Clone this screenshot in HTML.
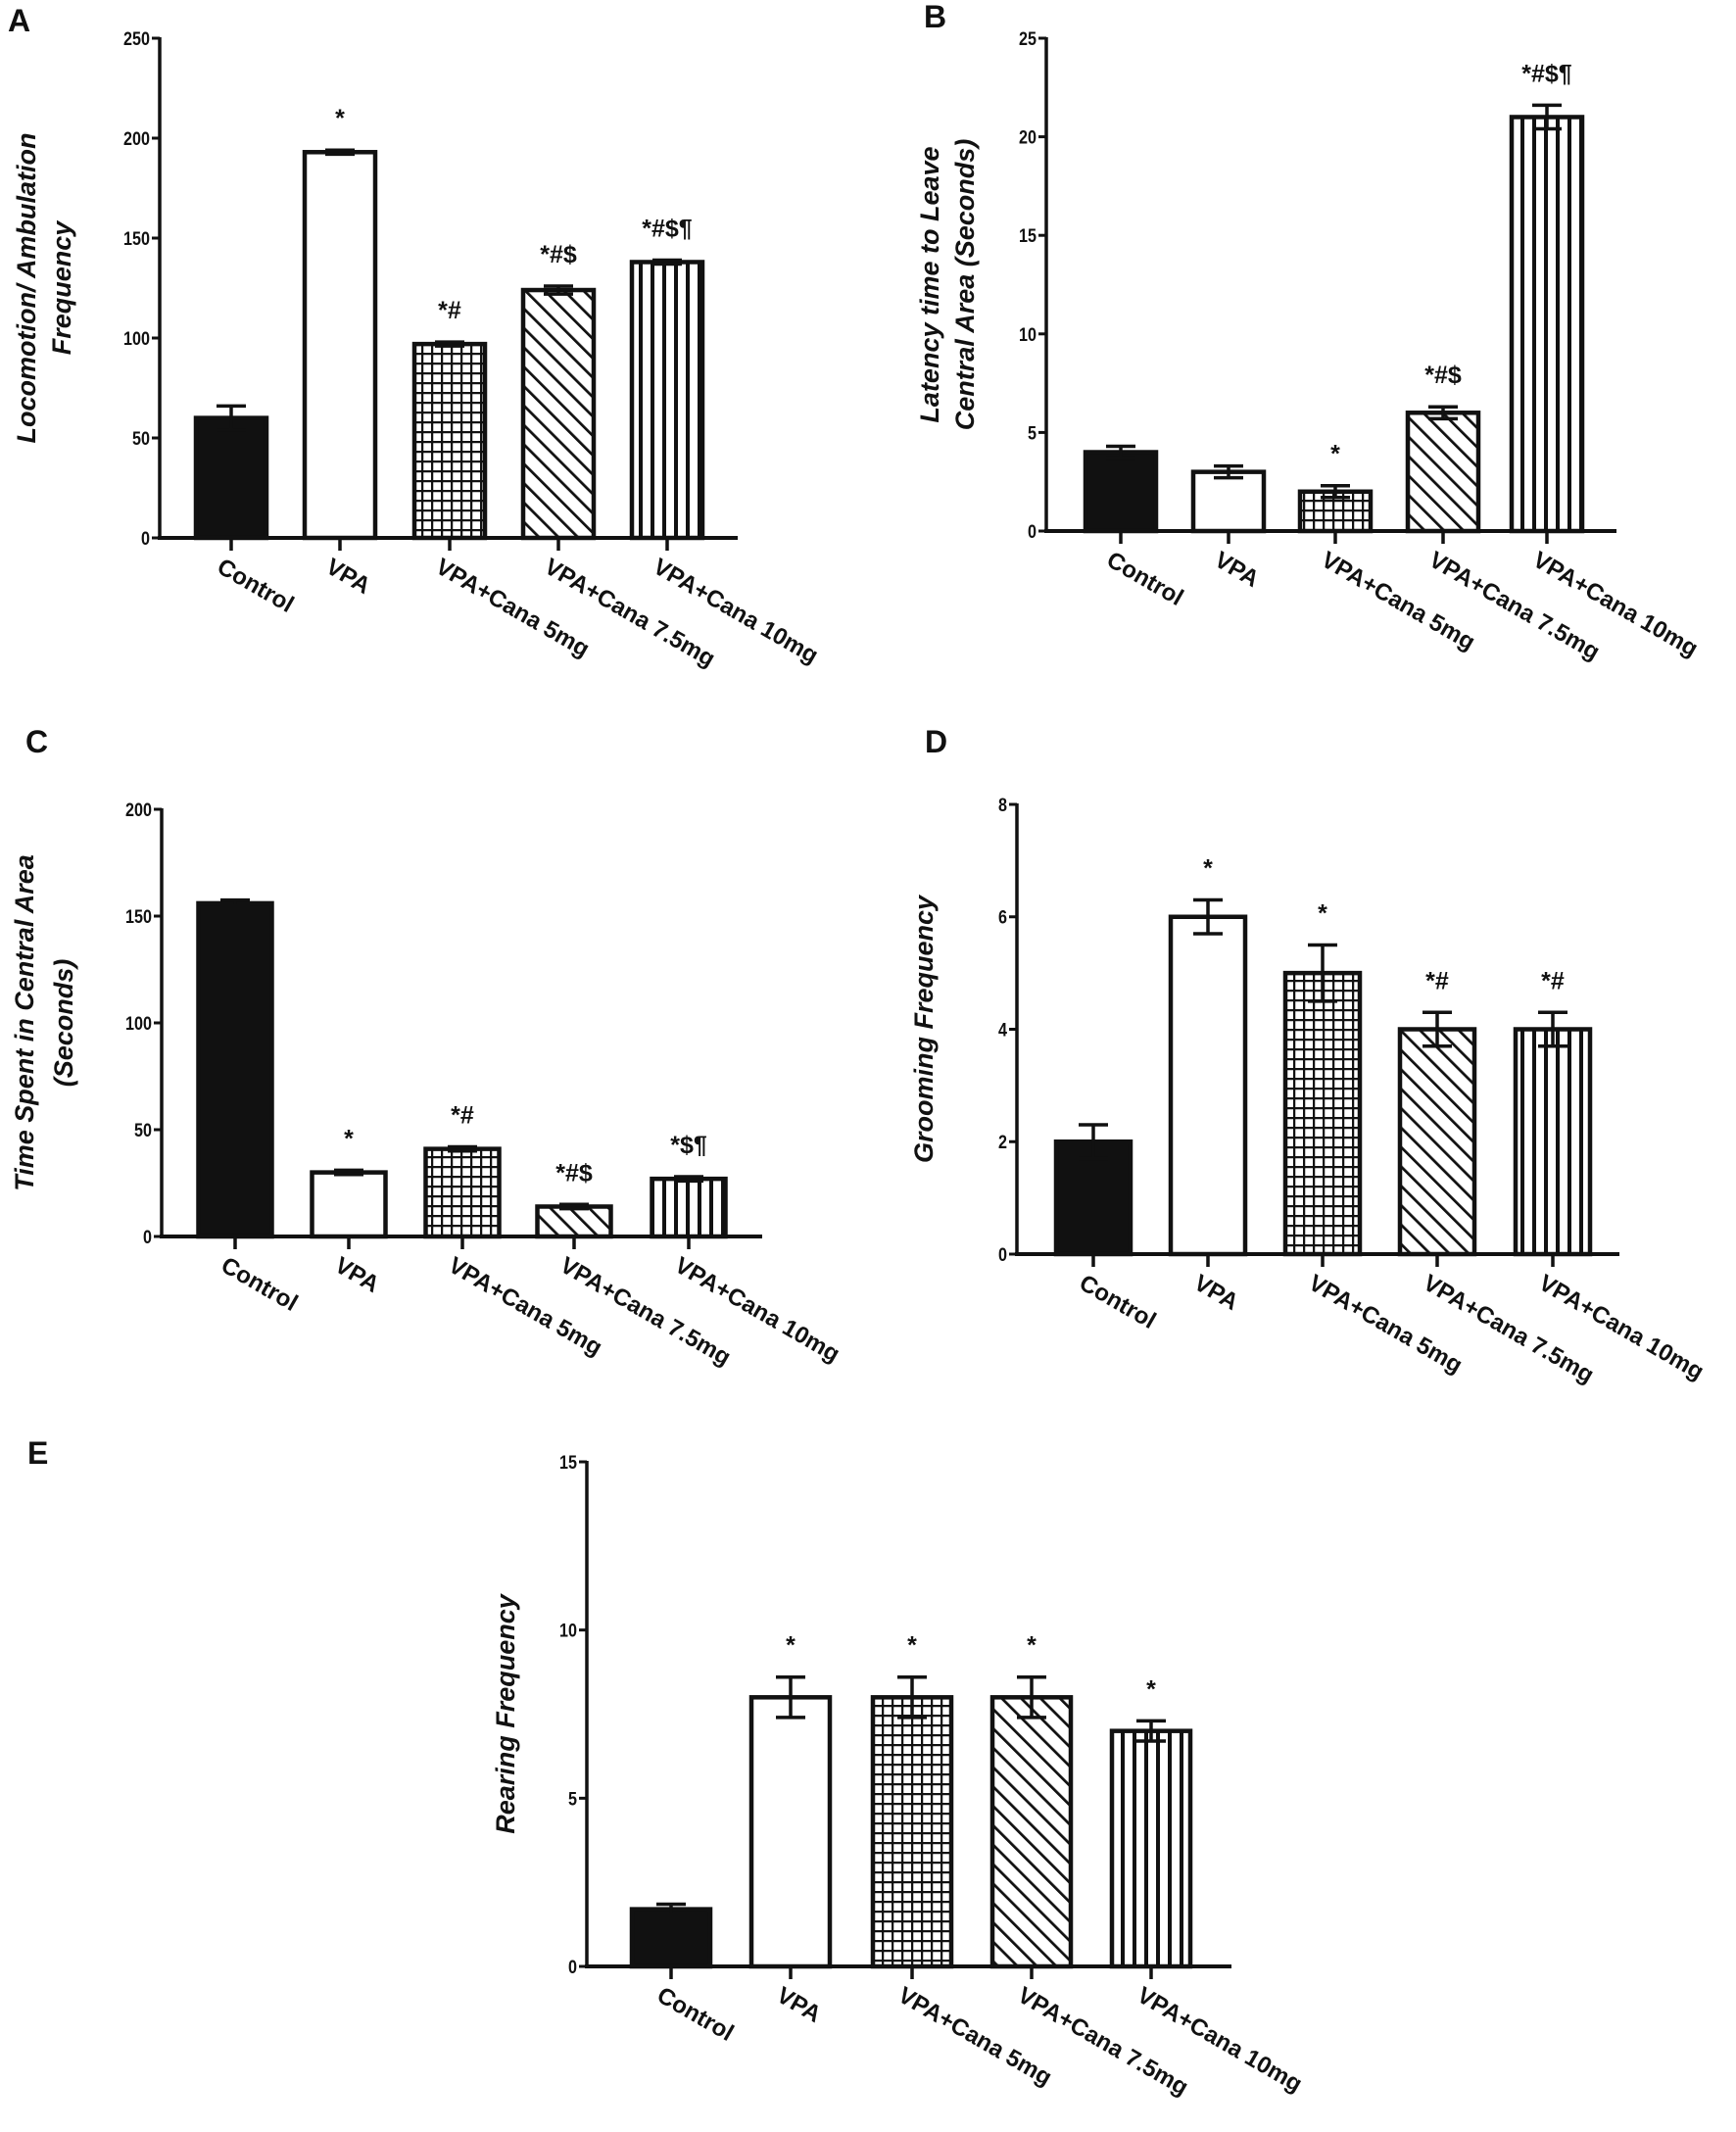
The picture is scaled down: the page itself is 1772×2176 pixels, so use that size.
<!DOCTYPE html>
<html><head><meta charset="utf-8">
<style>
html,body{margin:0;padding:0;background:#fff;}
svg text{font-family:"Liberation Sans",Arial,sans-serif;font-weight:bold;fill:#111;}
</style></head>
<body>
<svg id="fig" width="1772" height="2171" viewBox="0 0 1772 2171" xmlns="http://www.w3.org/2000/svg">
<defs>
<pattern id="pGrid" patternUnits="userSpaceOnUse" width="10" height="10"><rect width="10" height="10" fill="#fff"/><path d="M0 0H10M0 0V10" stroke="#111" stroke-width="4.5"/></pattern>
<pattern id="pDiag" patternUnits="userSpaceOnUse" width="14" height="14" patternTransform="rotate(-45)"><rect width="14" height="14" fill="#fff"/><path d="M0 0V14" stroke="#111" stroke-width="5.5"/></pattern>
<pattern id="pVert" patternUnits="userSpaceOnUse" width="12" height="12"><rect width="12" height="12" fill="#fff"/><path d="M6 0V12" stroke="#111" stroke-width="4"/></pattern>
</defs>
</svg>
<script>
const categories = ["Control","VPA","VPA+Cana 5mg","VPA+Cana 7.5mg","VPA+Cana 10mg"];
const valuesA = [60,193,97,124,138];
const errA = [6,1,1,2,1];
const annA = ["","*","*#","*#$","*#$¶"];
const ticksA = [0,50,100,150,200,250];
const valuesB = [4,3,2,6,21];
const errB = [0.3,0.3,0.3,0.3,0.6];
const annB = ["","","*","*#$","*#$¶"];
const ticksB = [0,5,10,15,20,25];
const valuesC = [156,30,41,14,27];
const errC = [1.5,1,1,1,1];
const annC = ["","*","*#","*#$","*$¶"];
const ticksC = [0,50,100,150,200];
const valuesD = [2,6,5,4,4];
const errD = [0.3,0.3,0.5,0.3,0.3];
const annD = ["","*","*","*#","*#"];
const ticksD = [0,2,4,6,8];
const valuesE = [1.7,8,8,8,7];
const errE = [0.15,0.6,0.6,0.6,0.3];
const annE = ["","*","*","*","*"];
const ticksE = [0,5,10,15];

const NS="http://www.w3.org/2000/svg";
const svg=document.getElementById('fig');
const fills=["#111","#fff","url(#pGrid)","url(#pDiag)","url(#pVert)"];
function mk(tag,parent,attrs){const e=document.createElementNS(NS,tag);for(const k in attrs)e.setAttribute(k,attrs[k]);parent.appendChild(e);return e;}

function panel(cfg){
  const g=mk('g',svg,{});
  
  
  const ymax=cfg.ticks[cfg.ticks.length-1];
  const yS=v=>cfg.y0-(v/ymax)*(cfg.y0-cfg.yTop);
  const lab=mk('text',g,{x:cfg.lx,y:cfg.ly,'font-size':32});
  lab.textContent=cfg.id;
  
  
  const ya=mk('line',g,{x1:cfg.ax,y1:cfg.yTop-1,x2:cfg.ax,y2:cfg.y0,stroke:'#111','stroke-width':3.5});
  
  
  const xa=mk('line',g,{x1:cfg.ax-2,y1:cfg.y0,x2:cfg.xEnd,y2:cfg.y0,stroke:'#111','stroke-width':4});
  
  
  cfg.ticks.forEach(t=>{
    const y=yS(t);
    mk('line',g,{x1:cfg.ax-8,y1:y,x2:cfg.ax,y2:y,stroke:'#111','stroke-width':3});
    const tl=mk('text',g,{x:cfg.ax-10,y:y+7,'font-size':19,'text-anchor':'end',transform:`scale(0.85 1)`,'transform-origin':`${cfg.ax-10} ${y}`});
    tl.textContent=t;
    
    
  });
  const mid=(cfg.yTop+cfg.y0)/2;
  cfg.title.forEach((line,i)=>{
    const x=cfg.tx[i];
    const t=mk('text',g,{x:x,y:mid,'font-size':27,'font-style':'italic','text-anchor':'middle',transform:`rotate(-90 ${x} ${mid})`});
    t.textContent=line;
    
    
  });
  categories.forEach((c,i)=>{
    const cx=cfg.xs[i], w=cfg.bw, v=cfg.vals[i], e=cfg.err[i];
    const top=yS(v);
    const r=mk('rect',g,{x:cx-w/2,y:top,width:w,height:cfg.y0-top,fill:fills[i],stroke:'#111','stroke-width':4.5});
    
    
    const et=yS(v+e), eb=yS(v-e);
    const eg=mk('path',g,{d:`M${cx} ${eb}V${et}M${cx-15} ${et}H${cx+15}M${cx-15} ${eb}H${cx+15}`,stroke:'#111','stroke-width':3.5,fill:'none'});
    
    
    mk('line',g,{x1:cx,y1:cfg.y0,x2:cx,y2:cfg.y0+13,stroke:'#111','stroke-width':3.5});
    if(cfg.ann[i]){
      const a=mk('text',g,{x:cx,y:et-24,'font-size':25,'text-anchor':'middle'});
      a.textContent=cfg.ann[i];
      
      
    }
    const lx=cx-16, ly=cfg.y0+34;
    const cl=mk('text',g,{x:lx,y:ly,'font-size':24,transform:`rotate(30 ${lx} ${ly})`});
    cl.textContent=c;
    
    
  });
}

panel({id:'A',lx:8,ly:32,ax:163,yTop:39,y0:549,xEnd:753,xs:[236,347,459,570,681],bw:72,
  vals:valuesA,err:errA,ann:annA,ticks:ticksA,title:["Locomotion/ Ambulation","Frequency"],tx:[36,72]});
panel({id:'B',lx:943,ly:28,ax:1068,yTop:39,y0:542,xEnd:1650,xs:[1144,1254,1363,1473,1579],bw:72,
  vals:valuesB,err:errB,ann:annB,ticks:ticksB,title:["Latency time to Leave","Central Area (Seconds)"],tx:[958,994]});
panel({id:'C',lx:26,ly:768,ax:165,yTop:826,y0:1262,xEnd:778,xs:[240,356,472,586,703],bw:75,
  vals:valuesC,err:errC,ann:annC,ticks:ticksC,title:["Time Spent in Central Area","(Seconds)"],tx:[34,74]});
panel({id:'D',lx:944,ly:768,ax:1038,yTop:821,y0:1280,xEnd:1653,xs:[1116,1233,1350,1467,1585],bw:76,
  vals:valuesD,err:errD,ann:annD,ticks:ticksD,title:["Grooming Frequency"],tx:[952]});
panel({id:'E',lx:28,ly:1494,ax:599,yTop:1492,y0:2007,xEnd:1257,xs:[685,807,931,1053,1175],bw:80,
  vals:valuesE,err:errE,ann:annE,ticks:ticksE,title:["Rearing Frequency"],tx:[525]});
</script>
</body></html>
